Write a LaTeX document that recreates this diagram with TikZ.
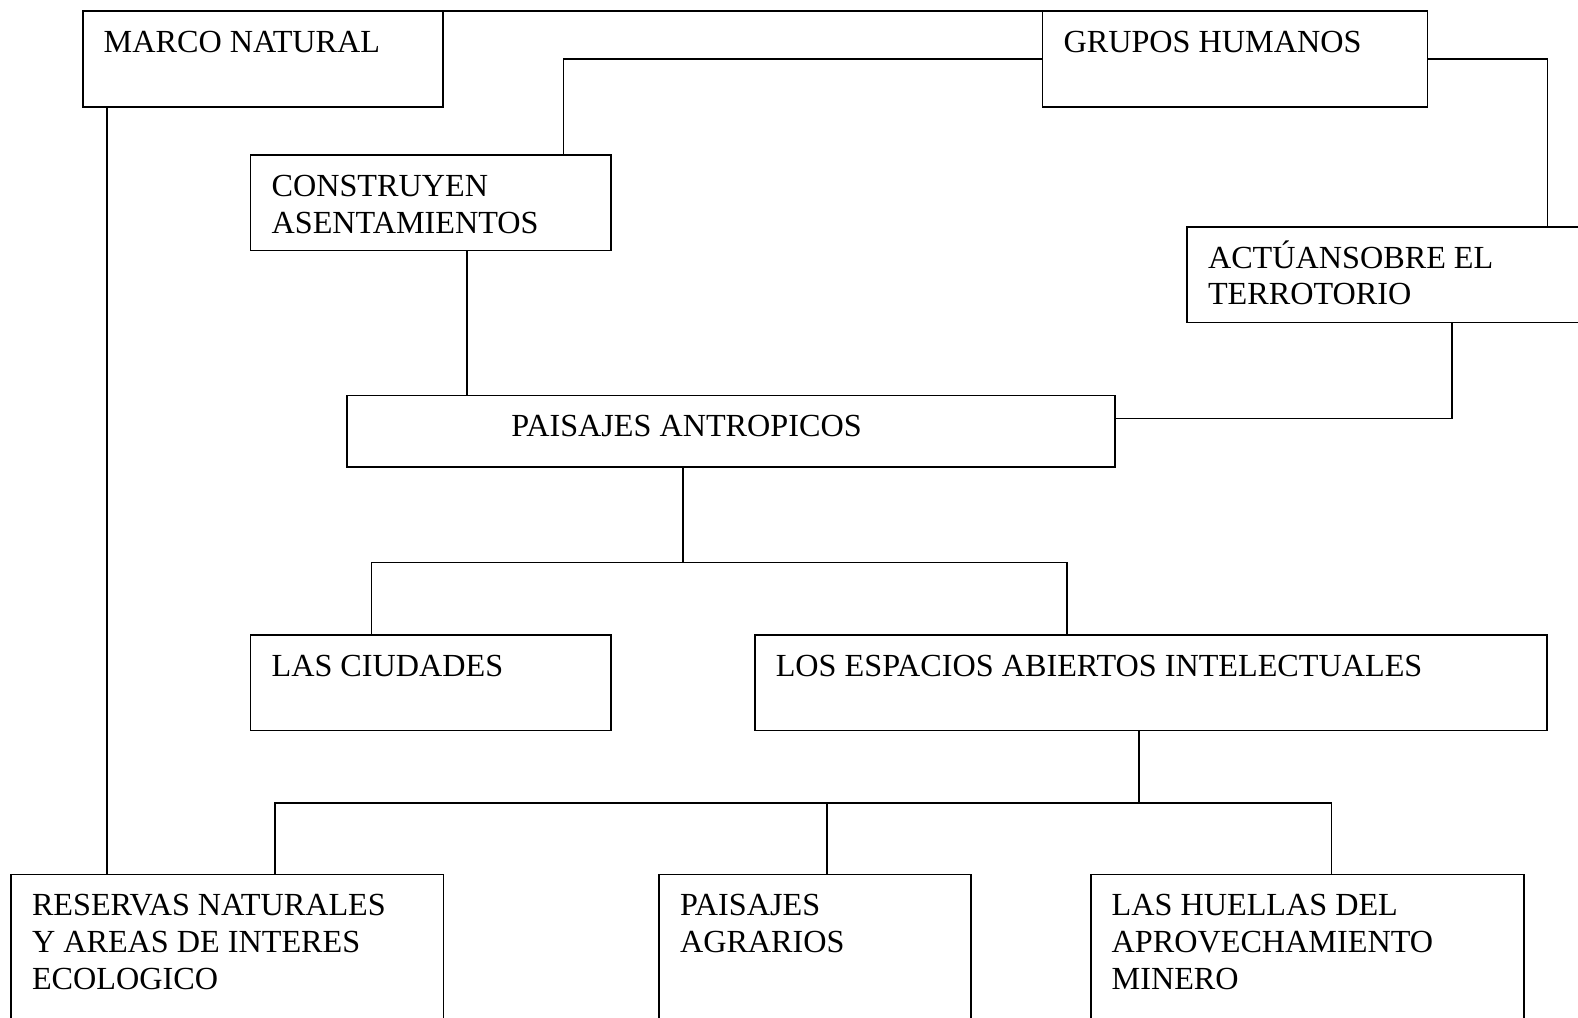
\documentclass[tikz,border=0pt]{standalone}
\usepackage{fontspec}
\setmainfont{Liberation Serif}
\begin{document}
\begin{tikzpicture}[x=1pt,y=-1pt,
  box/.style={draw, line width=1.6pt, rectangle, inner sep=0pt, outer sep=0pt, anchor=north west},
  lbl/.style={anchor=base west, inner sep=0pt, outer sep=0pt, font=\fontsize{32.2}{36.7}\selectfont},
  wire/.style={line width=1.6pt}]
\useasboundingbox (0,0) rectangle (1578,1017);
\fill[white] (0,0) rectangle (1578,1017);
\clip (0,0) rectangle (1578,1017);
% boxes
\node[box, minimum width=360pt, minimum height=96pt] (marco) at (82.7,10.7) {};
\node[box, minimum width=385pt, minimum height=96pt] (grupos) at (1042.6,10.7) {};
\node[box, minimum width=360.3pt, minimum height=95.6pt] (constr) at (250.6,155) {};
\node[box, minimum width=420pt, minimum height=95.6pt] (act) at (1187,226.7) {};
\node[box, minimum width=768pt, minimum height=71.5pt] (paisa) at (347,395.5) {};
\node[box, minimum width=360.3pt, minimum height=95.6pt] (ciud) at (250.6,635) {};
\node[box, minimum width=792pt, minimum height=95.6pt] (esp) at (754.8,635) {};
\node[box, minimum width=432.3pt, minimum height=200pt] (res) at (11,874.5) {};
\node[box, minimum width=312pt, minimum height=200pt] (agr) at (659,874.5) {};
\node[box, minimum width=433pt, minimum height=200pt] (hue) at (1090.7,874.5) {};
% labels
\node[lbl] (marco-t) at (103.7,52) {MARCO NATURAL};
\node[lbl] (grupos-t) at (1063.6,52) {GRUPOS HUMANOS};
\node[lbl] (constr-t) at (271.6,196.3) {\begin{tabular}[t]{@{}l@{}}CONSTRUYEN\\ASENTAMIENTOS\end{tabular}};
\node[lbl] (act-t) at (1208,268) {\begin{tabular}[t]{@{}l@{}}ACTÚANSOBRE EL\\TERROTORIO\end{tabular}};
\node[lbl] (paisa-t) at (511.3,436.8) {PAISAJES ANTROPICOS};
\node[lbl] (ciud-t) at (271.6,676.3) {LAS CIUDADES};
\node[lbl] (esp-t) at (775.8,676.3) {LOS ESPACIOS ABIERTOS INTELECTUALES};
\node[lbl] (res-t) at (32,915.8) {\begin{tabular}[t]{@{}l@{}}RESERVAS NATURALES\\Y AREAS DE INTERES\\ECOLOGICO\end{tabular}};
\node[lbl] (agr-t) at (680,915.8) {\begin{tabular}[t]{@{}l@{}}PAISAJES\\AGRARIOS\end{tabular}};
\node[lbl] (hue-t) at (1111.7,915.8) {\begin{tabular}[t]{@{}l@{}}LAS HUELLAS DEL\\APROVECHAMIENTO\\MINERO\end{tabular}};
% junctions
\coordinate (j1) at (683,562.6);
\coordinate (j2) at (1139,803);
% connectors
\draw[wire] (marco.north east) -- (grupos.north west);
\draw[wire] (grupos.west) -| ([xshift=313pt]constr.north west);
\draw[wire] (grupos.east) -| ([xshift=360.3pt]act.north west);
\draw[wire] ([xshift=264.7pt]act.south west) |- ([yshift=-23.1pt]paisa.north east);
\draw[wire] ([xshift=216.4pt]constr.south west) -- ([xshift=120pt]paisa.north west);
\draw[wire] ([xshift=336pt]paisa.south west) -- (j1);
\draw[wire] (j1) -| ([xshift=120.8pt]ciud.north west);
\draw[wire] (j1) -| ([xshift=312pt]esp.north west);
\draw[wire] ([xshift=384.2pt]esp.south west) -- (j2);
\draw[wire] (j2) -| ([xshift=263.7pt]res.north west);
\draw[wire] (j2) -| ([xshift=168.2pt]agr.north west);
\draw[wire] (j2) -| ([xshift=240.7pt]hue.north west);
\draw[wire] ([xshift=24pt]marco.south west) -- ([xshift=95.7pt]res.north west);
\end{tikzpicture}
\end{document}
